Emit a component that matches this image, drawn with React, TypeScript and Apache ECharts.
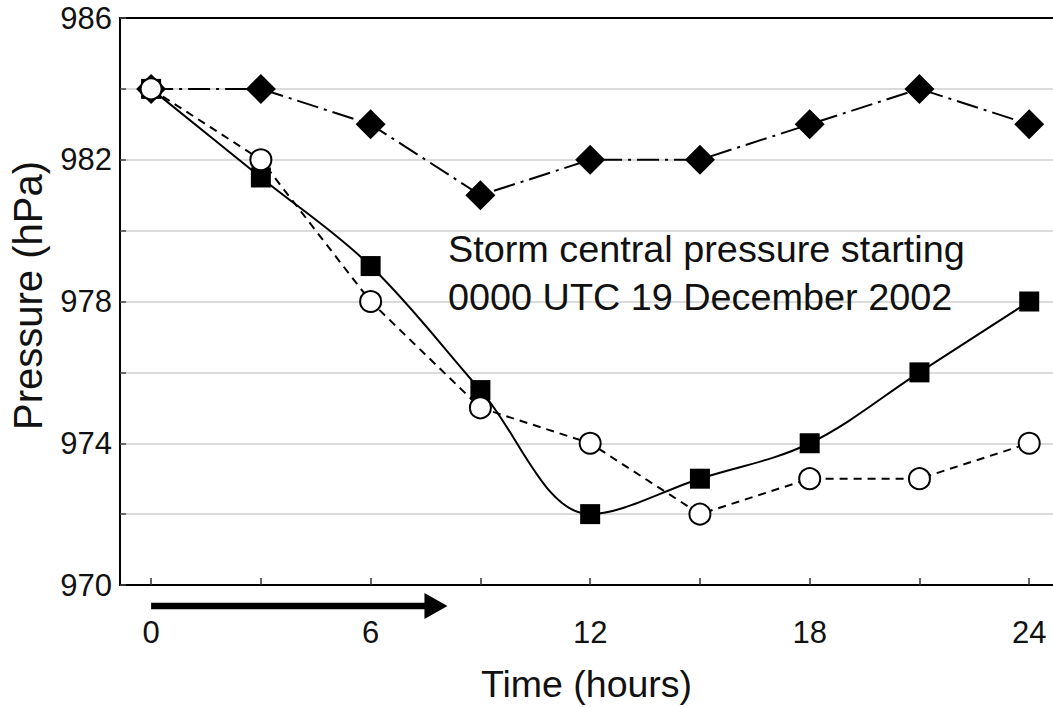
import React, { useEffect, useRef } from "react";
import * as echarts from "echarts";

const hours = [0, 3, 6, 9, 12, 15, 18, 21, 24];
const diamondValues = [984, 984, 983, 981, 982, 982, 983, 984, 983];
const squareValues = [984, 981.5, 979, 975.5, 972, 973, 974, 976, 978];
const circleValues = [984, 982, 978, 975, 974, 972, 973, 973, 974];

const xTickValues = [0, 3, 6, 9, 12, 15, 18, 21, 24];
const xLabelValues = [0, 6, 12, 18, 24];
const yLabelValues = [970, 974, 978, 982, 986];

const annotationLines = ["Storm central pressure starting", "0000 UTC 19 December 2002"];
const arrowFromHour = 0;
const arrowToHour = 8.1;

const FONT = "'Liberation Sans', Arial, Helvetica, sans-serif";

export default function App() {
  const ref = useRef<HTMLDivElement>(null);

  useEffect(() => {
    const chart = echarts.init(ref.current!, null, { renderer: "svg" });
    const pairs = (vals: number[]) => hours.map((h, i) => [h, vals[i]]);

    chart.setOption({
      animation: false,
      backgroundColor: "#ffffff",
      grid: { left: 116, top: 18, right: 0, bottom: 121, containLabel: false },
      xAxis: [
        {
          type: "value",
          min: -0.85,
          max: 24.65,
          name: "Time (hours)",
          nameLocation: "middle",
          nameGap: 80,
          nameTextStyle: { fontFamily: FONT, fontSize: 37.5, color: "#111" },
          axisLine: { show: true, onZero: false, lineStyle: { color: "#000", width: 2 } },
          axisTick: {
            show: true,
            inside: true,
            length: 7,
            customValues: xTickValues,
            lineStyle: { color: "#333", width: 1.5 },
          },
          axisLabel: {
            customValues: xLabelValues,
            margin: 32,
            fontFamily: FONT,
            fontSize: 31,
            color: "#111",
          },
          splitLine: { show: false },
        },
        {
          type: "value",
          position: "top",
          min: -0.85,
          max: 24.65,
          axisLine: { show: true, onZero: false, lineStyle: { color: "#000", width: 2 } },
          axisTick: { show: false },
          axisLabel: { show: false },
          splitLine: { show: false },
        },
      ],
      yAxis: {
        type: "value",
        min: 970,
        max: 986,
        interval: 2,
        name: "Pressure (hPa)",
        nameLocation: "middle",
        nameGap: 72,
        nameTextStyle: { fontFamily: FONT, fontSize: 40, color: "#111", padding: [0, 0, 0, 12] },
        axisLine: { show: true, onZero: false, lineStyle: { color: "#000", width: 2 } },
        axisTick: { show: true, inside: true, length: 6, lineStyle: { color: "#444", width: 1.5 } },
        axisLabel: {
          customValues: yLabelValues,
          margin: 8,
          fontFamily: FONT,
          fontSize: 31,
          color: "#111",
        },
        splitLine: { show: true, lineStyle: { color: "#cfcfcf", width: 1.5 } },
      },
      series: [
        {
          name: "Diamonds",
          type: "line",
          data: pairs(diamondValues),
          symbol: "diamond",
          symbolSize: 30,
          itemStyle: { color: "#000" },
          lineStyle: { color: "#000", width: 2, type: [22, 6, 3, 6] },
          z: 2,
        },
        {
          name: "Squares",
          type: "line",
          data: pairs(squareValues),
          smooth: 0.35,
          symbol: "rect",
          symbolSize: 20,
          itemStyle: { color: "#000" },
          lineStyle: { color: "#000", width: 2 },
          z: 3,
        },
        {
          name: "Circles",
          type: "line",
          data: pairs(circleValues),
          symbol: "circle",
          symbolSize: 21,
          itemStyle: { color: "#fff", borderColor: "#000", borderWidth: 2 },
          lineStyle: { color: "#000", width: 2, type: [8, 6] },
          z: 4,
        },
      ],
    });

    const x0 = chart.convertToPixel({ xAxisIndex: 0 }, arrowFromHour) as number;
    const x1 = chart.convertToPixel({ xAxisIndex: 0 }, arrowToHour) as number;
    const yBase = chart.convertToPixel({ yAxisIndex: 0 }, 970) as number;
    const ay = yBase + 21;

    chart.setOption({
      graphic: [
        {
          type: "rect",
          shape: { x: x0, y: ay - 3.3, width: x1 - x0 - 20, height: 6.6 },
          style: { fill: "#000" },
        },
        {
          type: "polygon",
          shape: { points: [[x1 - 23, ay - 13], [x1, ay], [x1 - 23, ay + 13]] },
          style: { fill: "#000" },
        },
        {
          type: "text",
          x: 448,
          y: 225,
          style: {
            text: annotationLines.join("\n"),
            fontFamily: FONT,
            fontSize: 37.8,
            lineHeight: 48,
            fill: "#111",
          },
        },
      ],
    });

    return () => chart.dispose();
  }, []);

  return (
    <div
      ref={ref}
      style={{ position: "fixed", left: 0, top: 0, width: 1053, height: 708, background: "#fff" }}
    />
  );
}
